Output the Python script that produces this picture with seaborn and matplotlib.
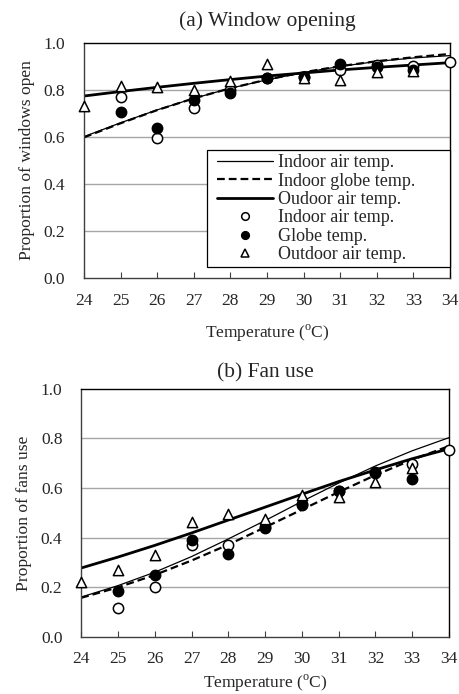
import matplotlib
matplotlib.use("Agg")
import matplotlib.pyplot as plt
from matplotlib.lines import Line2D
from matplotlib.legend_handler import HandlerLine2D
import seaborn as sns
import pandas as pd

sns.set_style("white")
plt.rcParams['font.family'] = ['Liberation Serif', 'DejaVu Serif']
plt.rcParams['mathtext.fontset'] = 'custom'
plt.rcParams['mathtext.rm'] = 'Liberation Serif'

temps = [24, 25, 26, 27, 28, 29, 30, 31, 32, 33, 34]
xticks = list(range(24, 35))
yticks = [0.0, 0.2, 0.4, 0.6, 0.8, 1.0]

# (a) Window opening - observed proportions
win_open_T = [25, 26, 27, 28, 29, 30, 31, 32, 33, 34]
win_open_indoor = [0.770, 0.596, 0.723, 0.800, 0.848, 0.855, 0.884, 0.905, 0.900, 0.919]
win_globe_T = [25, 26, 27, 28, 29, 30, 31, 32, 33]
win_globe = [0.704, 0.637, 0.756, 0.787, 0.851, 0.853, 0.908, 0.898, 0.884]
win_out_T = [24, 25, 26, 27, 28, 29, 30, 31, 32, 33]
win_outdoor = [0.730, 0.816, 0.810, 0.800, 0.837, 0.908, 0.851, 0.841, 0.874, 0.879]
# (a) fitted curves read at each degree
win_fit_indoor = [0.600, 0.659, 0.714, 0.763, 0.806, 0.842, 0.873, 0.899, 0.920, 0.935, 0.945]
win_fit_globe = [0.597, 0.657, 0.713, 0.763, 0.806, 0.843, 0.874, 0.900, 0.921, 0.938, 0.952]
win_fit_outdoor = [0.773, 0.792, 0.810, 0.827, 0.843, 0.858, 0.871, 0.884, 0.895, 0.905, 0.915]

# (b) Fan use - observed proportions
fan_open_T = [25, 26, 27, 28, 29, 30, 31, 32, 33, 34]
fan_open_indoor = [0.117, 0.201, 0.372, 0.369, 0.443, 0.537, 0.588, 0.664, 0.695, 0.752]
fan_globe_T = [25, 26, 27, 28, 29, 30, 31, 32, 33]
fan_globe = [0.185, 0.248, 0.392, 0.336, 0.439, 0.532, 0.587, 0.660, 0.638]
fan_out_T = [24, 25, 26, 27, 28, 29, 30, 31, 32, 33]
fan_outdoor = [0.221, 0.271, 0.329, 0.463, 0.494, 0.474, 0.570, 0.564, 0.624, 0.681]
# (b) fitted curves
fan_fit_indoor = [0.161, 0.207, 0.261, 0.324, 0.395, 0.469, 0.546, 0.620, 0.689, 0.750, 0.803]
fan_fit_globe = [0.158, 0.200, 0.250, 0.308, 0.372, 0.442, 0.513, 0.584, 0.652, 0.714, 0.769]
fan_fit_outdoor = [0.278, 0.322, 0.369, 0.419, 0.471, 0.523, 0.575, 0.626, 0.673, 0.718, 0.758]

titles = ["(a) Window opening", "(b) Fan use"]
ylabels = ["Proportion of windows open", "Proportion of fans use"]
xlabel = "Temperature ($^{\\rm o}$C)"
legend_labels = ["Indoor air temp.", "Indoor globe temp.", "Oudoor air temp.",
                 "Indoor air temp.", "Globe temp.", "Outdoor air temp."]

fig = plt.figure(figsize=(4.6, 6.94), dpi=100)
ax1 = fig.add_axes([0.1826, 0.600, 0.7957, 0.3385])
ax2 = fig.add_axes([0.1765, 0.0821, 0.7996, 0.3578])

panels = [
    (ax1, win_fit_indoor, win_fit_globe, win_fit_outdoor,
     win_open_T, win_open_indoor, win_globe_T, win_globe, win_out_T, win_outdoor),
    (ax2, fan_fit_indoor, fan_fit_globe, fan_fit_outdoor,
     fan_open_T, fan_open_indoor, fan_globe_T, fan_globe, fan_out_T, fan_outdoor),
]
title_pads = [12, 8]
xtick_pads = [11, 10]
xlabel_pads = [10, 4]

msize = 55
for i, (ax, fi, fg, fo, ti, vi, tg, vg, to, vo) in enumerate(panels):
    for yv in yticks[1:-1]:
        ax.axhline(yv, color="#a6a6a6", lw=1.0, zorder=0)
    sns.lineplot(x=temps, y=fi, ax=ax, color="black", lw=0.9, zorder=2)
    sns.lineplot(x=temps, y=fg, ax=ax, color="black", lw=1.6, zorder=2,
                 dashes=False, linestyle=(0, (3.5, 1.8)))
    sns.lineplot(x=temps, y=fo, ax=ax, color="black", lw=2.0, zorder=2)
    sns.scatterplot(x=ti, y=vi, ax=ax, marker="o", s=msize, facecolor="white",
                    edgecolor="black", linewidth=1.1, zorder=3)
    sns.scatterplot(x=tg, y=vg, ax=ax, marker="o", s=msize, facecolor="black",
                    edgecolor="black", linewidth=1.1, zorder=4)
    sns.scatterplot(x=to, y=vo, ax=ax, marker="^", s=msize, facecolor="white",
                    edgecolor="black", linewidth=1.1, zorder=5)
    ax.set_xlim(24, 34)
    ax.set_ylim(0, 1.0)
    ax.set_xticks(xticks)
    ax.set_yticks(yticks)
    ax.set_yticklabels([f"{v:.1f}" for v in yticks])
    ax.tick_params(axis="x", direction="in", length=4, width=0.8, color="#404040",
                   labelsize=12.5, pad=xtick_pads[i], top=False, bottom=True)
    ax.tick_params(axis="y", length=0, labelsize=12.5, pad=13.5)
    for sp in ax.spines.values():
        sp.set_color("black")
        sp.set_linewidth(1.0)
        sp.set_visible(True)
    ax.spines["left"].set_color("#404040")
    ax.spines["bottom"].set_color("#404040")
    ax.set_title(titles[i], fontsize=15.5, pad=title_pads[i])
    ax.set_xlabel(xlabel, fontsize=12.5, labelpad=xlabel_pads[i])
    ax.set_ylabel(ylabels[i], fontsize=12.6, labelpad=6)
    for coll in ax.collections:
        coll.set_clip_on(False)

handles = [
    Line2D([], [], color="black", lw=0.9),
    Line2D([], [], color="black", lw=1.6, linestyle=(0, (3.5, 1.8))),
    Line2D([], [], color="black", lw=2.0),
    Line2D([], [], marker="o", ls="none", mfc="white", mec="black", ms=5.5, mew=1.1),
    Line2D([], [], marker="o", ls="none", mfc="black", mec="black", ms=5.5, mew=1.1),
    Line2D([], [], marker="^", ls="none", mfc="white", mec="black", ms=5.5, mew=1.1),
]
leg = ax1.legend(handles, legend_labels, loc="lower left",
                 bbox_to_anchor=(0.336, 0.0455, 0.664, 0.506), mode="expand",
                 fontsize=13, frameon=True, fancybox=False, framealpha=1,
                 edgecolor="black", borderpad=0.2, labelspacing=0.08,
                 handlelength=3.43, handletextpad=0.28, borderaxespad=0,
                 handler_map={Line2D: HandlerLine2D(xpad=0.33)})
leg.get_frame().set_linewidth(0.9)

fig.savefig("out.png", dpi=100)
